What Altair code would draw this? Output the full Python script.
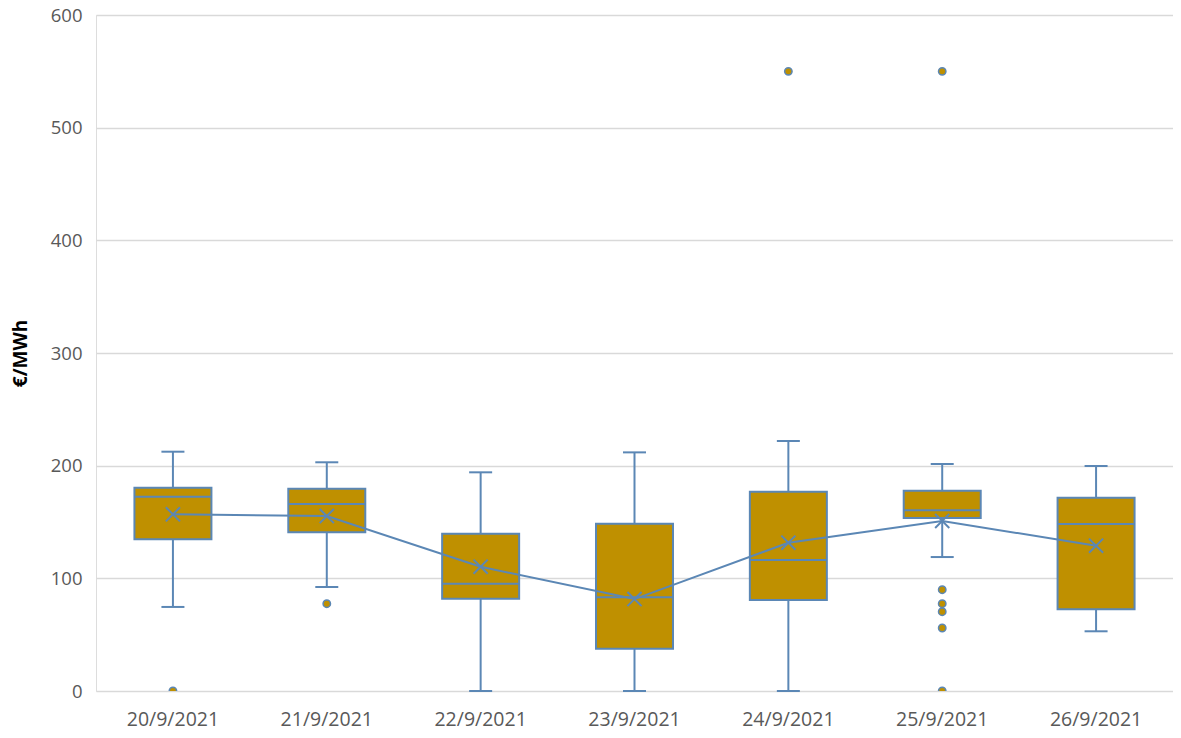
import altair as alt
import pandas as pd

days = ["20/9/2021", "21/9/2021", "22/9/2021", "23/9/2021", "24/9/2021", "25/9/2021", "26/9/2021"]
whisker_low = [74.6, 92.3, 0.0, 0.0, 0.0, 118.9, 53.0]
q1 = [134.6, 140.8, 81.9, 37.6, 80.8, 153.5, 72.5]
median = [172.5, 166.0, 95.2, 83.1, 116.3, 160.4, 148.2]
q3 = [180.4, 179.6, 139.6, 148.5, 176.9, 177.8, 171.6]
whisker_high = [212.4, 203.0, 194.1, 211.8, 221.9, 201.5, 199.7]
mean = [156.8, 155.3, 110.3, 81.6, 131.6, 150.9, 129.0]

outlier_days = ["20/9/2021", "21/9/2021", "24/9/2021",
                "25/9/2021", "25/9/2021", "25/9/2021", "25/9/2021", "25/9/2021", "25/9/2021"]
outlier_values = [0.0, 77.5, 550.0, 550.0, 89.9, 77.5, 70.4, 55.9, 0.0]

GOLD = "#BF9000"
BLUE = "#5B87B5"
FONT = "Open Sans"

stats = pd.DataFrame({
    "day": days, "lo": whisker_low, "q1": q1, "med": median,
    "q3": q3, "hi": whisker_high, "mean": mean,
})
outs = pd.DataFrame({"day": outlier_days, "v": outlier_values})

x = alt.X("day:N", sort=days,
          scale=alt.Scale(paddingInner=0, paddingOuter=0),
          axis=alt.Axis(title=None, labelAngle=0, domain=False, ticks=False,
                        labelPadding=19, labelFontSize=19.5, labelColor="#595959",
                        labelFont=FONT, grid=False))
yscale = alt.Scale(domain=[0, 600], nice=False)
yaxis = alt.Axis(title="€/MWh", values=[0, 100, 200, 300, 400, 500, 600],
                 domain=False, ticks=False, grid=True, gridColor="#D9D9D9",
                 gridWidth=1.5, labelFontSize=18.5, labelColor="#595959",
                 labelFont=FONT, labelPadding=14, titleFont=FONT,
                 titleFontSize=19, titleFontWeight="bold", titleColor="#000000",
                 titlePadding=20)

base = alt.Chart(stats)

whisk = base.mark_rule(color=BLUE, strokeWidth=2, opacity=1).encode(
    x=x, y=alt.Y("lo:Q", scale=yscale, axis=yaxis), y2="hi:Q")
cap_lo = base.mark_tick(color=BLUE, thickness=2, size=23, orient="horizontal", opacity=1).encode(
    x=x, y=alt.Y("lo:Q", scale=yscale))
cap_hi = base.mark_tick(color=BLUE, thickness=2, size=23, orient="horizontal", opacity=1).encode(
    x=x, y=alt.Y("hi:Q", scale=yscale))
box = base.mark_bar(color=GOLD, stroke=BLUE, strokeWidth=2, size=77, opacity=1).encode(
    x=x, y=alt.Y("q1:Q", scale=yscale), y2="q3:Q")
med = base.mark_tick(color=BLUE, thickness=2, size=77, orient="horizontal", opacity=1).encode(
    x=x, y=alt.Y("med:Q", scale=yscale))
line = base.mark_line(color=BLUE, strokeWidth=2, opacity=1).encode(
    x=x, y=alt.Y("mean:Q", scale=yscale))
xmark = base.mark_point(shape="M-1,-1L1,1M1,-1L-1,1", size=200, stroke=BLUE,
                        strokeWidth=2, filled=False, opacity=1).encode(
    x=x, y=alt.Y("mean:Q", scale=yscale))
pts = alt.Chart(outs).mark_point(shape="circle", size=55, filled=True, fill=GOLD,
                                 stroke=BLUE, strokeWidth=1.5, opacity=1, clip=True).encode(
    x=x, y=alt.Y("v:Q", scale=yscale))

chart = alt.layer(whisk, cap_lo, cap_hi, box, med, line, xmark, pts).properties(
    width=1077, height=676,
    autosize=alt.AutoSizeParams(type="none"),
    padding={"left": 88, "top": 7, "right": 0, "bottom": 39},
).configure_view(stroke=None).configure(background="white")

chart.save("out.html", embed_options={"renderer": "svg", "actions": False})
